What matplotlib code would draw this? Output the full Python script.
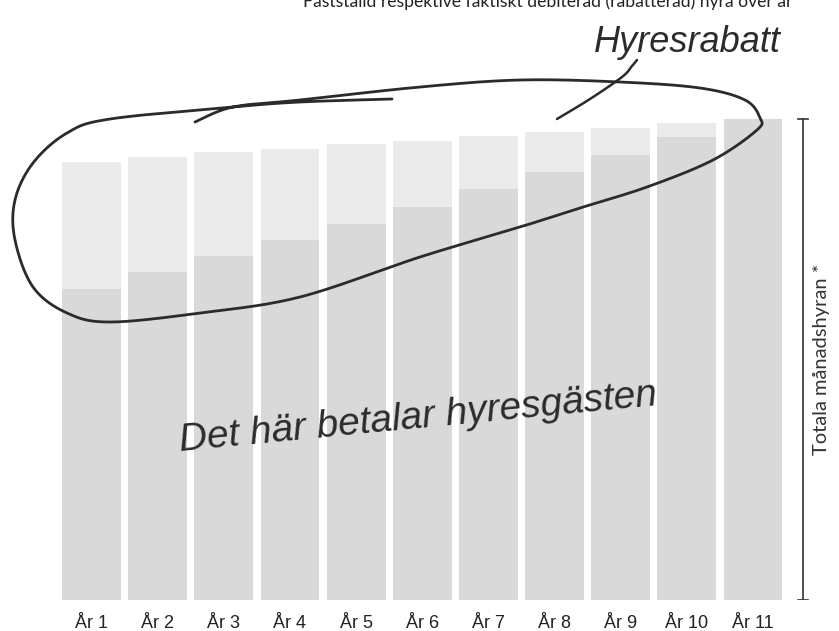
import numpy as np
import matplotlib.pyplot as plt

# --- Data (share of year 11 total rent, %) ---
years = ['År 1', 'År 2', 'År 3', 'År 4', 'År 5', 'År 6', 'År 7', 'År 8', 'År 9', 'År 10', 'År 11']
total_rent = [91.1, 92.1, 93.1, 93.8, 94.8, 95.4, 96.5, 97.3, 98.1, 99.2, 100.0]
paid_rent = [64.7, 68.2, 71.5, 74.8, 78.2, 81.7, 85.4, 89.0, 92.5, 96.3, 100.0]
discount = [t - p for t, p in zip(total_rent, paid_rent)]

title = 'Fastställd respektive faktiskt debiterad (rabatterad) hyra över år'
side_label = 'Totala månadshyran *'

W, H = 839, 631
hand = ['Liberation Sans', 'DejaVu Sans']


def spline(pts, n=30):
    # Catmull-Rom through hand-traced points (pixel coords)
    p = np.array(pts, dtype=float)
    p = np.vstack([p[0], p, p[-1]])
    out = []
    for i in range(1, len(p) - 2):
        p0, p1, p2, p3 = p[i - 1], p[i], p[i + 1], p[i + 2]
        t = np.linspace(0, 1, n)[:, None]
        out.append(0.5 * ((2 * p1) + (-p0 + p2) * t + (2 * p0 - 5 * p1 + 4 * p2 - p3) * t ** 2
                          + (-p0 + 3 * p1 - 3 * p2 + p3) * t ** 3))
    return np.vstack(out)


fig = plt.figure(figsize=(W / 100, H / 100), dpi=100)

# --- Bars ---
ax = fig.add_axes([0, 31 / H, 1, 600 / H])
x = np.arange(len(years))
px = 66.15  # pixels per bar slot
ax.bar(x, paid_rent, width=0.89, color='#d9d9d9', linewidth=0)
ax.bar(x, discount, bottom=paid_rent, width=0.89, color='#ebebeb', linewidth=0)
ax.set_xlim(-91.5 / px, 10 + (W - 753) / px)
ax.set_ylim(0, 600 / 481 * 100)
for s in ax.spines.values():
    s.set_visible(False)
ax.set_yticks([])
ax.set_xticks(x)
ax.set_xticklabels(years, fontsize=13, family=['Liberation Sans', 'DejaVu Sans'], color='#222222')
ax.tick_params(axis='x', length=0, pad=11)

# bracket for total rent
bx = (803 - 91.5) / px
cap = 5 / px
ax.plot([bx, bx], [0, max(total_rent)], color='#333333', lw=1.2)
ax.plot([bx - cap, bx + cap], [0, 0], color='#333333', lw=1.2)
ax.plot([bx - cap, bx + cap], [max(total_rent)] * 2, color='#333333', lw=1.2)
ax.text((822 - 91.5) / px, 50, side_label, rotation=90, ha='center', va='center',
        fontsize=14.5, family=['Lato', 'DejaVu Sans'], color='#333333')

# --- Hand-drawn overlay (pixel coords) ---
ov = fig.add_axes([0, 0, 1, 1])
ov.set_xlim(0, W)
ov.set_ylim(H, 0)
ov.axis('off')
ov.patch.set_alpha(0)

loop = [(392, 99), (300, 102), (233, 107), (110, 119), (67, 133), (33, 163), (15, 200),
        (15, 240), (33, 287), (67, 313), (110, 322), (200, 313), (300, 297), (420, 257),
        (520, 227), (580, 208), (647, 187), (713, 160), (757, 130), (760, 118),
        (745, 100), (700, 88), (620, 82), (520, 80), (420, 87), (300, 100), (233, 107),
        (195, 122)]
c = spline(loop)
ov.plot(c[:, 0], c[:, 1], color='#2b2b2b', lw=2.0, solid_capstyle='round')

pointer = [(557, 119), (590, 99), (622, 77), (632, 66), (637, 60)]
c = spline(pointer)
ov.plot(c[:, 0], c[:, 1], color='#2b2b2b', lw=1.8, solid_capstyle='round')

ov.text(687, 42, 'Hyresrabatt', ha='center', va='center', fontsize=26, family=hand,
        style='italic', color='#2b2b2b')
ov.text(418, 418, 'Det här betalar hyresgästen', ha='center', va='center', fontsize=28,
        family=hand, style='italic', color='#2b2b2b', rotation=5.5)

fig.text(548 / W, 1 - 7 / H, title, ha='center', va='baseline', fontsize=12.6,
         family=['Lato', 'DejaVu Sans'], color='#222222')

fig.savefig('out.png', dpi=100, facecolor='white')
